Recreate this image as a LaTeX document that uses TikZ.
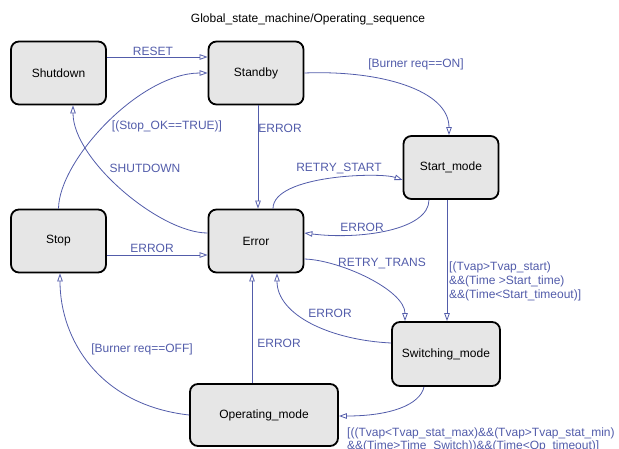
\documentclass[tikz,border=0pt]{standalone}
\usepackage{fontspec}
\setmainfont{Liberation Sans}
\usetikzlibrary{arrows.meta}
\definecolor{edgeblue}{RGB}{82,92,170}
\definecolor{statefill}{RGB}{230,230,230}
\begin{document}
\begin{tikzpicture}[x=1pt,y=-1pt,
  state/.style={draw=black, line width=1.8pt, fill=statefill, rounded corners=8pt,
    minimum width=95pt, minimum height=63pt, inner sep=0pt,
    font=\fontsize{12}{14}\selectfont},
  trans/.style={draw=edgeblue, line width=0.8pt, -{Triangle[open,length=8pt,width=5.5pt]}},
  lbl/.style={text=edgeblue, font=\fontsize{12}{14}\selectfont, inner sep=0pt},
]
\useasboundingbox (0,0) rectangle (619,448);

% title
\node[font=\fontsize{12}{14}\selectfont, inner sep=0pt] (title) at (308,19) {Global\_state\_machine/Operating\_sequence};

% states
\node[state] (Shutdown) at (58.5,73) {Shutdown};
\node[state] (Standby) at (256,73) {Standby};
\node[state] (Start_mode) at (451,167.5) {Start\_mode};
\node[state] (Stop) at (58.5,241) {Stop};
\node[state] (Error) at (256,241) {Error};
\node[state, minimum width=108pt, minimum height=64pt] (Switching_mode) at (446,354) {Switching\_mode};
\node[state, minimum width=148pt, minimum height=62pt] (Operating_mode) at (264,415) {Operating\_mode};

% helper coordinates
\coordinate (s1) at ([xshift=-4pt]Start_mode.south);
\coordinate (o1) at ([xshift=-12pt]Operating_mode.north);

% transitions
\draw[trans] ([yshift=16pt]Shutdown.east) -- ([yshift=16pt]Standby.west);
\draw[trans] (Stop.north) .. controls (59,160) and (140,73) .. (Standby.west);
\draw[trans] ([yshift=8pt]Error.west) .. controls (160,233) and (73,160) .. ([xshift=14.5pt]Shutdown.south);
\draw[trans] (Standby.east) .. controls (380,70) and (449,90) .. ([xshift=-2pt]Start_mode.north);
\draw[trans] ([xshift=2pt]Standby.south) -- ([xshift=2pt]Error.north);
\draw[trans] ([xshift=17pt]Error.north) .. controls (273,175) and (380,172) .. ([yshift=-12.5pt]Start_mode.west);
\draw[trans] ([xshift=-22pt]Start_mode.south) .. controls (429,230) and (360,240) .. ([yshift=8pt]Error.east);
\draw[trans] ([yshift=-14pt]Stop.east) -- ([yshift=-14pt]Error.west);
\draw[trans] (s1) -- (s1 |- Switching_mode.north);
\draw[trans] ([yshift=-18pt]Error.east) .. controls (340,260) and (405,290) .. ([xshift=-41pt]Switching_mode.north);
\draw[trans] ([yshift=11pt]Switching_mode.west) .. controls (330,340) and (277,315) .. ([xshift=21pt]Error.south);
\draw[trans] (o1) -- (o1 |- Error.south);
\draw[trans] (Operating_mode.west) .. controls (100,405) and (60,340) .. ([xshift=1.5pt]Stop.south);
\draw[trans] ([xshift=-22pt]Switching_mode.south) .. controls (420,405) and (390,416) .. ([yshift=-1pt]Operating_mode.east);

% labels
\node[lbl] (lReset) at (153,51) {RESET};
\node[lbl] (lStopOK) at (167,126) {[(Stop\_OK==TRUE)]};
\node[lbl] (lShut) at (145,168) {SHUTDOWN};
\node[lbl] (lBon) at (416,64) {[Burner req==ON]};
\node[lbl] (lErr1) at (280,128) {ERROR};
\node[lbl] (lRS) at (339,168) {RETRY\_START};
\node[lbl] (lErr2) at (362,227) {ERROR};
\node[lbl] (lErr3) at (152,248) {ERROR};
\node[lbl, align=left, anchor=west] (lStart) at (449,281) {[(Tvap>Tvap\_start)\\\&\&(Time >Start\_time)\\\&\&(Time<Start\_timeout)]};
\node[lbl] (lRT) at (382,263) {RETRY\_TRANS};
\node[lbl] (lErr4) at (330,313) {ERROR};
\node[lbl] (lErr5) at (279,343) {ERROR};
\node[lbl] (lBoff) at (142,349) {[Burner req==OFF]};
\node[lbl, align=left, anchor=north west, font=\fontsize{12}{13}\selectfont] (lOp) at (347,427.5) {[((Tvap<Tvap\_stat\_max)\&\&(Tvap>Tvap\_stat\_min)\\\&\&(Time>Time\_Switch))\&\&(Time<Op\_timeout)]};
\end{tikzpicture}
\end{document}
